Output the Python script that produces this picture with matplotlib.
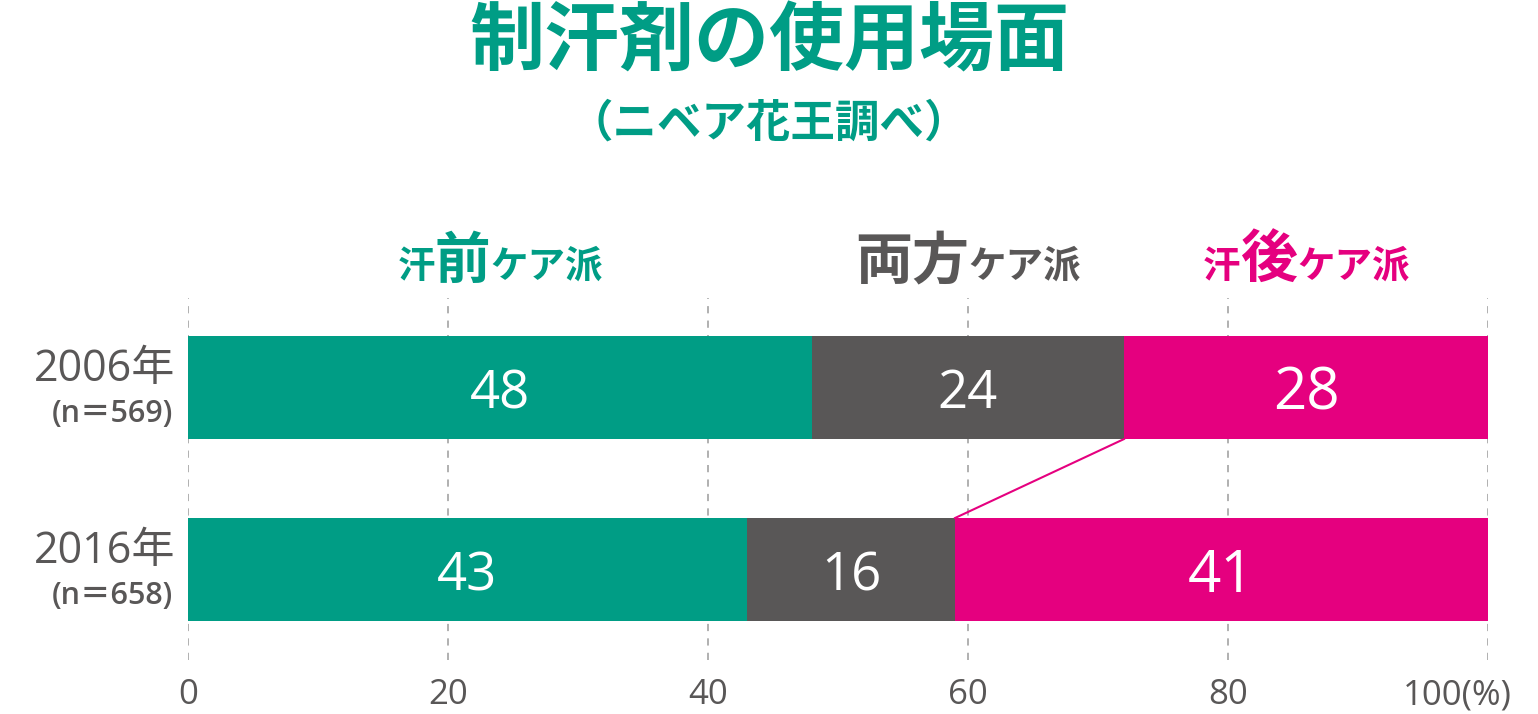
import numpy as np
import matplotlib
matplotlib.use("Agg")
import matplotlib.pyplot as plt
import matplotlib.transforms as mtransforms

plt.rcParams['font.family'] = ['Noto Sans CJK JP', 'DejaVu Sans']
NUMFONT = ['Open Sans', 'Noto Sans CJK JP']

# data
years = ["2006年", "2016年"]
samples = ["(n＝569)", "(n＝658)"]
before = [48, 43]   # 汗前ケア派
both = [24, 16]     # 両方ケア派
after = [28, 41]    # 汗後ケア派
ticks = [0, 20, 40, 60, 80, 100]
tick_labels = ["0", "20", "40", "60", "80", "100(%)"]

GREEN = "#009D85"
GREY = "#595757"
PINK = "#E5007F"

fig = plt.figure(figsize=(15.38, 7.14), dpi=100)
ax = fig.add_axes([188 / 1538, 54 / 714, 1300 / 1538, 362 / 714])

y = np.arange(len(years))
h = 0.566
before = np.array(before)
both = np.array(both)
after = np.array(after)

ax.barh(y, before, height=h, color=GREEN, zorder=2)
ax.barh(y, both, left=before, height=h, color=GREY, zorder=2)
ax.barh(y, after, left=before + both, height=h, color=PINK, zorder=2)

# value labels (nudged down a little like the original)
for i in range(len(years)):
    ax.annotate(str(before[i]), xy=(before[i] / 2, y[i]), xytext=(0, -5),
                textcoords="offset points", color="white", fontsize=38,
                family=NUMFONT, ha="center", va="center", zorder=3)
    ax.annotate(str(both[i]), xy=(before[i] + both[i] / 2, y[i]), xytext=(0, -5),
                textcoords="offset points", color="white", fontsize=38,
                family=NUMFONT, ha="center", va="center", zorder=3)
    ax.annotate(str(after[i]), xy=(before[i] + both[i] + after[i] / 2, y[i]), xytext=(0, -5),
                textcoords="offset points", color="white", fontsize=42,
                family=NUMFONT, ha="center", va="center", zorder=3)

# connector between the after-care segments
ax.plot([before[0] + both[0], before[1] + both[1]], [y[0] + h / 2, y[1] - h / 2],
        color=PINK, lw=1.5, zorder=2)

ax.set_xlim(0, 100)
ax.set_ylim(1.497, -0.492)
ax.set_xticks(ticks)
ax.set_xticklabels(tick_labels, fontsize=25, color=GREY, family=NUMFONT)
ax.set_yticks([])
ax.tick_params(axis="x", length=0, pad=13)
for s in ax.spines.values():
    s.set_visible(False)
ax.grid(axis="x", color="#aaaaaa", lw=1.3, linestyle=(0, (4, 4)), zorder=0)

lab = ax.get_xticklabels()[-1]
lab.set_transform(lab.get_transform() + mtransforms.ScaledTranslation(-31 / 100, 0, fig.dpi_scale_trans))

# year labels
for i in range(len(years)):
    ax.annotate(years[i], xy=(0, y[i]), xytext=(-9.5, 13), textcoords="offset points",
                ha="right", va="center", fontsize=31, color=GREY, family=NUMFONT)
    ax.annotate(samples[i], xy=(0, y[i]), xytext=(-11, -19), textcoords="offset points",
                ha="right", va="center", fontsize=22, color=GREY, family=NUMFONT,
                fontweight="semibold")

# title
fig.text(0.5, 1 - 42 / 714, "制汗剤の使用場面", ha="center", va="center",
         fontsize=54, fontweight="bold", color=GREEN)
fig.text(0.5, 1 - 124 / 714, "（ニベア花王調べ）", ha="center", va="center",
         fontsize=32, fontweight="bold", color=GREEN)

# category headers made from pieces of different sizes
renderer = fig.canvas.get_renderer()


def header(xc, parts, color):
    texts = []
    for s, fs in parts:
        t = fig.text(0, 1 - 278 / 714, s, fontsize=fs, fontweight="bold", color=color,
                     ha="left", va="baseline")
        texts.append(t)
    widths = [t.get_window_extent(renderer).width for t in texts]
    total = sum(widths)
    x0 = ax.transData.transform((xc, 0))[0] - total / 2
    for t, w in zip(texts, widths):
        t.set_x(x0 / fig.bbox.width)
        x0 += w


header(before[0] / 2, [("汗", 27), ("前", 40), ("ケア派", 27)], GREEN)
header(before[0] + both[0] / 2, [("両方", 41), ("ケア派", 27)], GREY)
header(before[0] + both[0] + after[0] / 2, [("汗", 27), ("後", 41), ("ケア派", 27)], PINK)

fig.savefig("out.png", dpi=100)
